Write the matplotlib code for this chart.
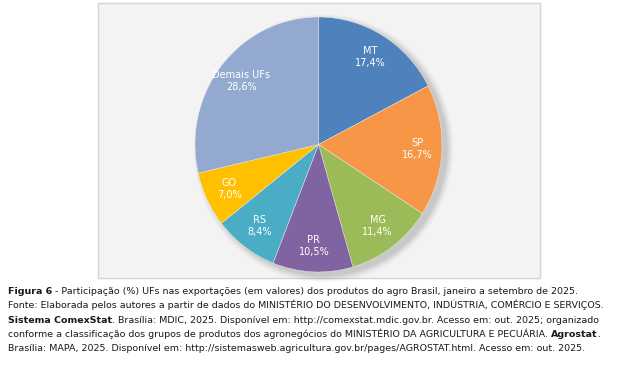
import matplotlib
matplotlib.use("Agg")
import matplotlib.pyplot as plt
import numpy as np
from matplotlib.patches import Rectangle, Ellipse

# Participação (%) das UFs nas exportações do agro, jan-set 2025
ufs = ["MT", "SP", "MG", "PR", "RS", "GO", "Demais UFs"]
shares = [17.4, 16.7, 11.4, 10.5, 8.4, 7.0, 28.6]
colors = ["#4F81BD", "#F79646", "#9BBB59", "#8064A2", "#4BACC6", "#FFC000", "#94A9D0"]

caption = [
    [("Figura 6", "bold"),
     (" - Participação (%) UFs nas exportações (em valores) dos produtos do agro Brasil, janeiro a setembro de 2025.", "normal")],
    [("Fonte: Elaborada pelos autores a partir de dados do MINISTÉRIO DO DESENVOLVIMENTO, INDÚSTRIA, COMÉRCIO E SERVIÇOS.", "normal")],
    [("Sistema ComexStat", "bold"),
     (". Brasília: MDIC, 2025. Disponível em: http://comexstat.mdic.gov.br. Acesso em: out. 2025; organizado", "normal")],
    [("conforme a classificação dos grupos de produtos dos agronegócios do MINISTÉRIO DA AGRICULTURA E PECUÁRIA. ", "normal"),
     ("Agrostat", "bold"), (".", "normal")],
    [("Brasília: MAPA, 2025. Disponível em: http://sistemasweb.agricultura.gov.br/pages/AGROSTAT.html. Acesso em: out. 2025.", "normal")],
]

W, H = 624, 386
fig = plt.figure(figsize=(W / 100, H / 100), dpi=100)
fig.patch.set_facecolor("white")

# caixa do gráfico
fig.patches.append(Rectangle((98 / W, 1 - 278 / H), 442 / W, 275 / H,
                             transform=fig.transFigure, facecolor="#f3f3f3",
                             edgecolor="#d6d6d6", linewidth=1.0, zorder=-1))

ax = fig.add_axes([195 / W, 1 - 272 / H, 247 / W, 255 / H])

# sombra suave
for k, a in [(0.10, 0.03), (0.07, 0.04), (0.04, 0.05), (0.01, 0.06)]:
    ax.add_patch(Ellipse((0.04, -0.03), 2 + k, 2 + k, facecolor="#000000",
                         edgecolor="none", alpha=a, clip_on=False, zorder=0))

wedges, _ = ax.pie(shares, colors=colors, startangle=90, counterclock=False,
                   wedgeprops=dict(edgecolor="#f0f0f0", linewidth=0.3, zorder=2))
ax.set_aspect("auto")
ax.set_xlim(-1, 1)
ax.set_ylim(-1, 1)

for w, uf, v in zip(wedges, ufs, shares):
    ang = np.radians((w.theta1 + w.theta2) / 2)
    ax.text(0.8 * np.cos(ang), 0.8 * np.sin(ang),
            f"{uf}\n{v:.1f}%".replace(".", ","), color="white",
            fontsize=7, ha="center", va="center", linespacing=1.25, zorder=3)

# legenda da figura
cap = fig.add_axes([0, 0, 1, 1])
cap.axis("off")
cap.set_xlim(0, W)
cap.set_ylim(H, 0)
y0, dy = 296, 14.3
for i, parts in enumerate(caption):
    prev = None
    for txt, wt in parts:
        if prev is None:
            prev = cap.text(8, y0 + i * dy, txt, fontsize=6.8, weight=wt,
                            color="#1a1a1a", ha="left", va="bottom")
        else:
            prev = cap.annotate(txt, xy=(1, 0), xycoords=prev, fontsize=6.8,
                                weight=wt, color="#1a1a1a", ha="left", va="bottom")

fig.savefig("out.png", dpi=100)
